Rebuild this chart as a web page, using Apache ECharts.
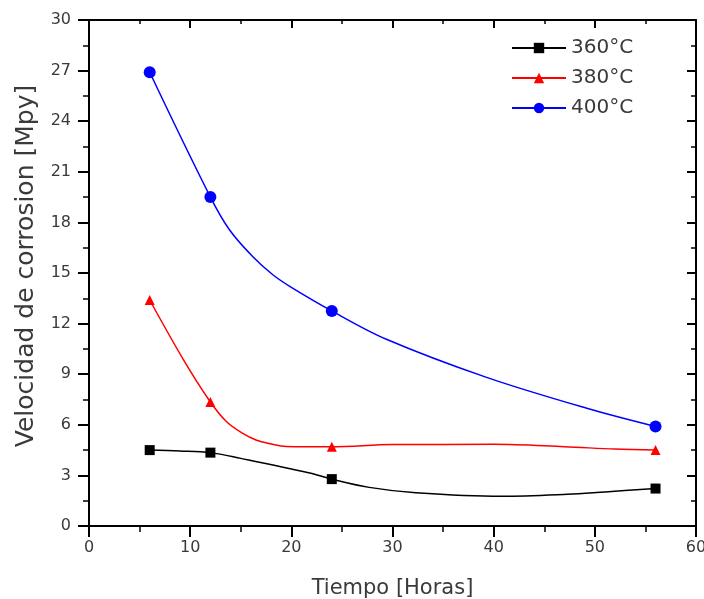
<!DOCTYPE html>
<html>
<head>
<meta charset="utf-8">
<script src="https://cdn.jsdelivr.net/npm/echarts@6/dist/echarts.min.js"></script>
<style>
html,body{margin:0;padding:0;background:#fff;}
#chart{width:704px;height:599px;}
</style>
</head>
<body>
<div id="chart"></div>
<script>
// Measured points (markers)
const hours = [6, 12, 24, 56];
const rate360 = [4.5, 4.35, 2.78, 2.22];
const rate380 = [13.4, 7.35, 4.7, 4.5];
const rate400 = [26.9, 19.5, 12.75, 5.9];

// Shape of the drawn spline curves (no markers)
const curve360X = [9, 15, 21.7, 27.7, 32.3, 40.8, 47.3, 51.0];
const curve360Y = [4.45, 4.01, 3.16, 2.29, 1.97, 1.76, 1.88, 2.02];
const curve380X = [9.3, 13.6, 15.2, 16.5, 17.9, 19.5, 30, 40, 47, 52];
const curve380Y = [9.9, 6.18, 5.49, 5.1, 4.88, 4.72, 4.83, 4.84, 4.7, 4.56];
const curve400X = [13.9, 16.2, 18.2, 20, 29.4, 39.3, 49.2];
const curve400Y = [17.55, 15.96, 14.88, 14.15, 11.07, 8.81, 6.98];

const seriesNames = ['360°C', '380°C', '400°C'];
const xTitle = 'Tiempo [Horas]';
const yTitle = 'Velocidad de corrosion [Mpy]';

function buildData(xs, ys, cx, cy) {
  const pts = xs.map((x, i) => ({ value: [x, ys[i]] }))
    .concat(cx.map((x, i) => ({ value: [x, cy[i]], symbol: 'none' })));
  pts.sort((a, b) => a.value[0] - b.value[0]);
  return pts;
}

const FONT = 'DejaVu Sans';
const TXT = '#3a3a3a';

function lineSeries(name, color, symbol, size, xs, ys, cx, cy) {
  return {
    type: 'line', name: name,
    data: buildData(xs, ys, cx, cy),
    symbol: symbol, symbolSize: size, showSymbol: true, showAllSymbol: true,
    smooth: 0.35,
    lineStyle: { color: color, width: 1.5 },
    itemStyle: { color: color },
    emphasis: { disabled: true }
  };
}

const axisCommon = {
  type: 'value', min: 0,
  axisLine: { show: true, onZero: false, lineStyle: { color: '#000', width: 2 } },
  splitLine: { show: false }
};

const chart = echarts.init(document.getElementById('chart'), null, { renderer: 'canvas' });
chart.setOption({
  animation: false,
  backgroundColor: '#fff',
  grid: { left: 89, right: 8, top: 20, bottom: 73, containLabel: false, outerBoundsMode: 'none' },
  legend: {
    data: seriesNames, orient: 'vertical', left: 511, top: 38, padding: 0,
    itemWidth: 54, itemHeight: 13, itemGap: 10,
    textStyle: { fontFamily: FONT, fontSize: 20, color: TXT }
  },
  xAxis: [
    Object.assign({}, axisCommon, {
      position: 'bottom', max: 60, interval: 10,
      name: xTitle, nameLocation: 'middle', nameGap: 52,
      nameTextStyle: { fontFamily: FONT, fontSize: 21, color: TXT },
      axisTick: { show: true, inside: false, length: 11, lineStyle: { color: '#000', width: 2 } },
      minorTick: { show: true, splitNumber: 2, length: 6, lineStyle: { color: '#000', width: 1.5 } },
      axisLabel: { fontFamily: FONT, fontSize: 16, color: TXT, margin: 14 }
    }),
    Object.assign({}, axisCommon, {
      position: 'top', max: 60, interval: 10,
      axisTick: { show: true, inside: true, length: 8, lineStyle: { color: '#000', width: 2 } },
      minorTick: { show: true, splitNumber: 2, length: 4, lineStyle: { color: '#000', width: 1.5 } },
      axisLabel: { show: false }
    })
  ],
  yAxis: [
    Object.assign({}, axisCommon, {
      position: 'left', max: 30, interval: 3,
      name: yTitle, nameLocation: 'middle', nameGap: 50, nameRotate: 90,
      nameTextStyle: { fontFamily: FONT, fontSize: 25, color: TXT, padding: [0, 0, 0, 14] },
      axisTick: { show: true, inside: false, length: 11, lineStyle: { color: '#000', width: 2 } },
      minorTick: { show: true, splitNumber: 2, length: 6, lineStyle: { color: '#000', width: 1.5 } },
      axisLabel: { fontFamily: FONT, fontSize: 16, color: TXT, margin: 18 }
    }),
    Object.assign({}, axisCommon, {
      position: 'right', max: 30, interval: 3,
      axisTick: { show: true, inside: true, length: 9, lineStyle: { color: '#000', width: 2 } },
      minorTick: { show: true, splitNumber: 2, length: 5, lineStyle: { color: '#000', width: 1.5 } },
      axisLabel: { show: false }
    })
  ],
  series: [
    lineSeries(seriesNames[0], '#000000', 'rect', 10, hours, rate360, curve360X, curve360Y),
    lineSeries(seriesNames[1], '#ff0000', 'triangle', 10, hours, rate380, curve380X, curve380Y),
    lineSeries(seriesNames[2], '#0000ff', 'circle', 12, hours, rate400, curve400X, curve400Y)
  ]
});
</script>
</body>
</html>
